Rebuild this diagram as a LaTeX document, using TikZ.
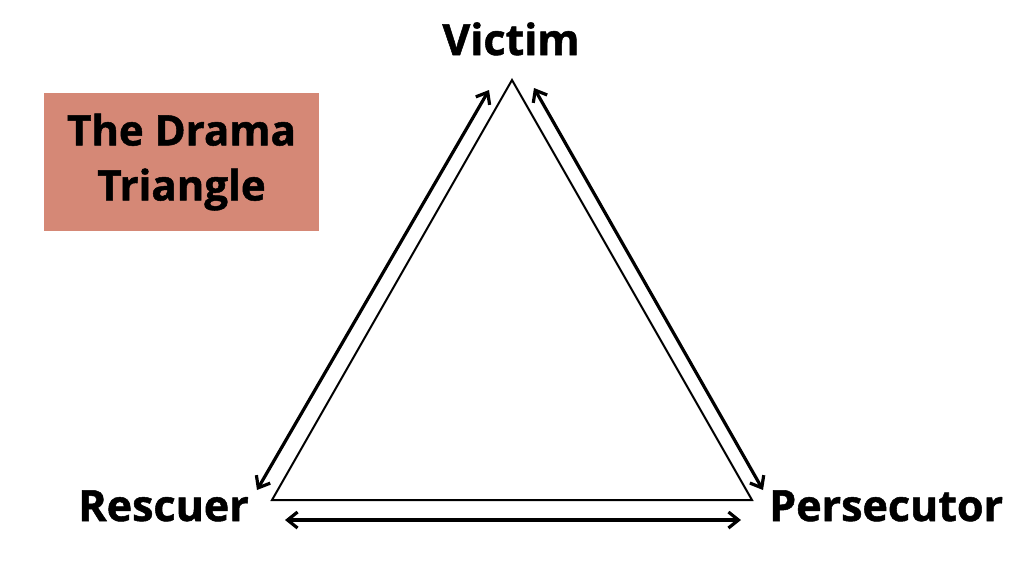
\documentclass[tikz,border=0pt]{standalone}
\usepackage{fontspec}
\setmainfont{Open Sans}[BoldFeatures={FakeBold=1.2}]
\usetikzlibrary{positioning, arrows.meta}
\definecolor{titleRose}{RGB}{213, 136, 118}

\begin{document}
\begin{tikzpicture}[
    x=1pt, y=-1pt,
    font=\bfseries,
    rolelabel/.style={inner sep=0pt, font=\fontsize{43}{50}\selectfont\bfseries},
    swaparrow/.style={{Straight Barb[length=10pt, width=16pt]}-{Straight Barb[length=10pt, width=16pt]}, line width=3.2pt}
]
\useasboundingbox (0,0) rectangle (1024,576);

% triangle corners
\coordinate (top) at (512,80);
\coordinate (left) at (272,500);
\coordinate (right) at (752,500);
\draw[line width=2pt, line join=miter] (top) -- (left) -- (right) -- cycle;

% arrows beside the sides
\coordinate (vl) at (489,90);
\coordinate (rl) at (257,490);
\coordinate (vr) at (534,88);
\coordinate (pr) at (763,490);
\coordinate (rb) at (285,520);
\coordinate (pb) at (741,520);
\draw[swaparrow] (rl) -- (vl);
\draw[swaparrow] (vr) -- (pr);
\draw[swaparrow] (rb) -- (pb);

% labels
\node[rolelabel, anchor=base] (victim) at (511,55) {Victim};
\node[rolelabel, anchor=base east] (rescuer) at (249,521) {Rescuer};
\node[rolelabel, anchor=base west] (persecutor) at (769,521) {Persecutor};

% title box
\node[fill=titleRose, minimum width=275pt, minimum height=138pt, align=center,
      font=\fontsize{42}{55}\selectfont\bfseries] (title) at (181.5,162) {The Drama\\Triangle};
\end{tikzpicture}
\end{document}
